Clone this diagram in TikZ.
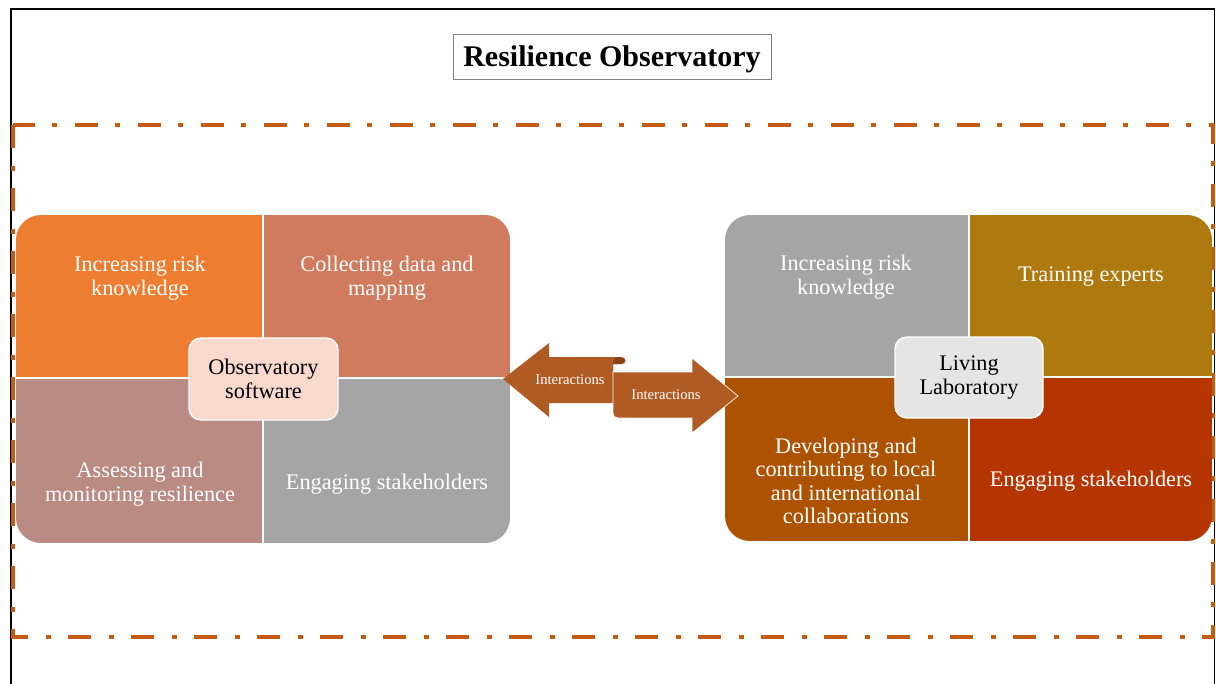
\documentclass[tikz,border=0pt]{standalone}
\usepackage{fontspec}
\setmainfont{Liberation Serif}
\definecolor{dashc}{RGB}{197,90,17}
\definecolor{lA}{RGB}{237,125,49}
\definecolor{lB}{RGB}{209,123,94}
\definecolor{lC}{RGB}{185,139,130}
\definecolor{grayq}{RGB}{165,165,165}
\definecolor{lCen}{RGB}{248,217,206}
\definecolor{rB}{RGB}{174,122,15}
\definecolor{rC}{RGB}{173,82,0}
\definecolor{rD}{RGB}{180,53,0}
\definecolor{rCen}{RGB}{229,229,229}
\definecolor{arr}{RGB}{176,90,36}
\definecolor{arrdark}{RGB}{135,66,26}
\begin{document}
\begin{tikzpicture}[x=0.75pt,y=-0.75pt,
  quadtext/.style={text=white, font=\fontsize{16.7}{17.6}\selectfont, align=center, inner sep=0pt},
  centerbox/.style={draw=white, line width=1.1pt, rounded corners=9pt, font=\fontsize{16.7}{17.6}\selectfont, align=center, text=black, inner sep=0pt},
  divider/.style={draw=white, line width=0.9pt},
  arrlabel/.style={text=white, font=\fontsize{11}{12}\selectfont, inner sep=0pt}]
\useasboundingbox (0,0) rectangle (1216,684);
\clip (0,0) rectangle (1216,684);
% outer frame
\draw[line width=1.5pt] (11,700) -- (11,9) -- (1214.5,9);
\draw[line width=0.8pt] (1214.5,9) -- (1214.5,700);
% title
\node[draw=gray, line width=0.6pt, minimum width=238.5pt, minimum height=33.75pt, inner sep=0pt,
  text height=17pt, text depth=2pt,
  font=\fontsize{22.5}{25}\selectfont\bfseries] (title) at (612,56.5) {Resilience Observatory};
% dash-dot frame
\draw[dashc, line width=3pt, dash pattern=on 17.25pt off 13.5pt on 3.75pt off 12.75pt]
  (13,125) rectangle (1213,637);
% left block
\begin{scope}
\clip[rounded corners=18.75pt] (16,215) rectangle (510,543);
\fill[lA] (16,215) rectangle (263,378);
\fill[lB] (263,215) rectangle (510,378);
\fill[lC] (16,378) rectangle (263,543);
\fill[grayq] (263,378) rectangle (510,543);
\draw[divider] (263,215) -- (263,543);
\draw[divider] (16,378) -- (510,378);
\end{scope}
\node[quadtext] (l1) at (140,278) {Increasing risk\\knowledge};
\node[quadtext] (l2) at (387,278) {Collecting data and\\mapping};
\node[quadtext] (l3) at (140,484) {Assessing and\\monitoring resilience};
\node[quadtext] (l4) at (387,484) {Engaging stakeholders};
\node[centerbox, fill=lCen, minimum width=111.75pt, minimum height=61.5pt] (lcen) at (263.5,379) {Observatory\\software};
% right block
\begin{scope}
\clip[rounded corners=18.75pt] (725,215) rectangle (1212,541);
\fill[grayq] (725,215) rectangle (969,377);
\fill[rB] (969,215) rectangle (1212,377);
\fill[rC] (725,377) rectangle (969,541);
\fill[rD] (969,377) rectangle (1212,541);
\draw[divider] (969,215) -- (969,541);
\draw[divider] (725,377) -- (1212,377);
\end{scope}
\node[quadtext] (r1) at (846,277) {Increasing risk\\knowledge};
\node[quadtext] (r2) at (1091,277) {Training experts};
\node[quadtext] (r3) at (846,481) {Developing and\\contributing to local\\and international\\collaborations};
\node[quadtext] (r4) at (1091,481) {Engaging stakeholders};
\node[centerbox, fill=rCen, minimum width=111pt, minimum height=60.75pt] (rcen) at (969,377.5) {Living\\Laboratory};
% arrows
\fill[arr] (503,379) -- (549,343) -- (549,357) -- (621,357)
  .. controls (627,357) and (627,364) .. (622,364) -- (613,364) -- (613,403)
  -- (549,403) -- (549,417) -- cycle;
\fill[arrdark] (613,373) -- (613,363) .. controls (613,359) and (616,357) .. (620,357)
  .. controls (626,357) and (626,364) .. (620,364) -- (613,364) -- cycle;
\filldraw[fill=arr, draw=white, line width=0.5pt] (613,372) -- (692,372) -- (692,358) -- (738,396)
  -- (692,433) -- (692,418) -- (618,418) .. controls (615,418) and (613,416) .. (613,413) -- cycle;
\node[arrlabel] (ia) at (570,380) {Interactions};
\node[arrlabel] (ib) at (666,395) {Interactions};
\end{tikzpicture}
\end{document}
